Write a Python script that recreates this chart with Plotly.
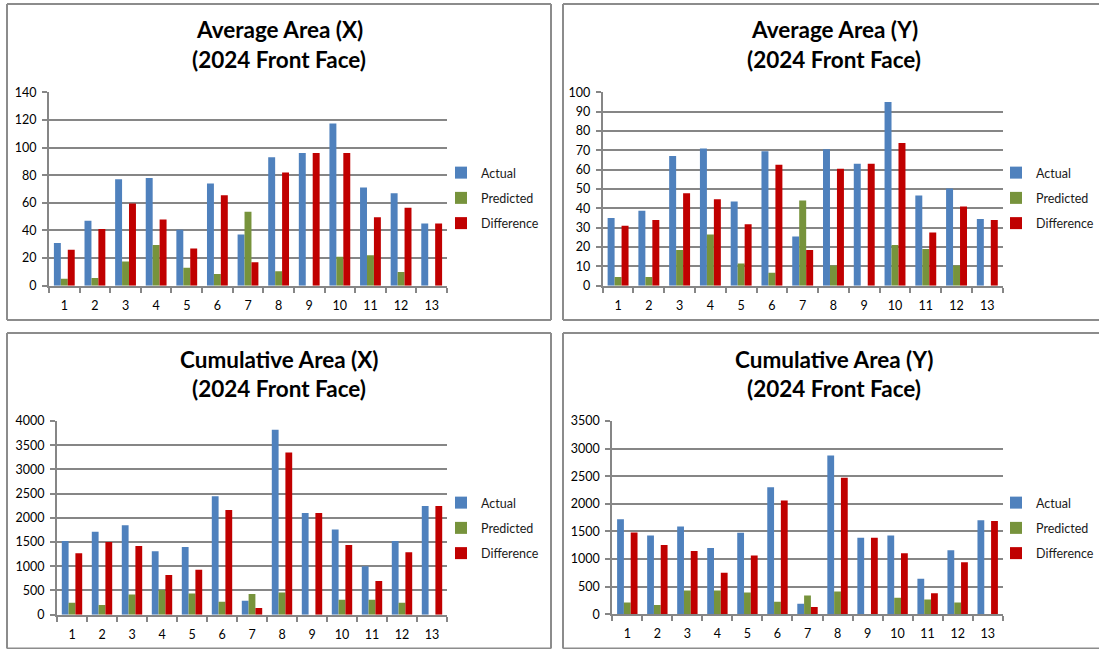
import plotly.graph_objects as go

W, H = 1099, 649

categories = [str(i) for i in range(1, 14)]
series_names = ["Actual", "Predicted", "Difference"]

avg_x_actual = [31, 47, 77, 78, 40.5, 74, 37, 93, 96, 117.5, 71, 67, 45]
avg_x_predicted = [5, 5.5, 17.5, 29.5, 13, 8.5, 53.5, 10.5, 0, 21, 22, 10, 0]
avg_x_difference = [26, 41, 59.5, 48, 27, 65.5, 17, 82, 96, 96, 49.5, 56.5, 45]

avg_y_actual = [35, 38.7, 67, 71, 43.5, 69.5, 25.5, 70.5, 63, 95, 46.7, 50.3, 34.5]
avg_y_predicted = [4.5, 4.5, 18.5, 26.5, 11.5, 6.7, 44, 10.5, 0, 21, 19, 10.5, 0]
avg_y_difference = [31, 34, 47.8, 44.7, 31.8, 62.5, 18.5, 60.5, 63, 73.8, 27.5, 41, 34]

cum_x_actual = [1520, 1715, 1845, 1310, 1400, 2445, 290, 3820, 2100, 1760, 1000, 1520, 2245]
cum_x_predicted = [245, 200, 415, 510, 440, 270, 425, 460, 0, 310, 310, 245, 0]
cum_x_difference = [1270, 1500, 1420, 820, 930, 2160, 140, 3350, 2100, 1440, 695, 1290, 2245]

cum_y_actual = [1720, 1425, 1590, 1200, 1475, 2300, 190, 2875, 1385, 1425, 640, 1160, 1700]
cum_y_predicted = [210, 165, 430, 430, 395, 225, 340, 410, 0, 300, 265, 210, 0]
cum_y_difference = [1480, 1255, 1145, 750, 1065, 2060, 130, 2470, 1385, 1105, 380, 940, 1690]

titles = [
    ("Average Area (X)", "(2024 Front Face)"),
    ("Average Area (Y)", "(2024 Front Face)"),
    ("Cumulative Area (X)", "(2024 Front Face)"),
    ("Cumulative Area (Y)", "(2024 Front Face)"),
]
y_ranges = [(0, 140, 20), (0, 100, 10), (0, 4000, 500), (0, 3500, 500)]
colors = ["#4F81BD", "#77933C", "#C00000"]

data_sets = [
    (avg_x_actual, avg_x_predicted, avg_x_difference),
    (avg_y_actual, avg_y_predicted, avg_y_difference),
    (cum_x_actual, cum_x_predicted, cum_x_difference),
    (cum_y_actual, cum_y_predicted, cum_y_difference),
]

# pixel layout (left, right, top, bottom) of plot areas
plot_px = [
    (49, 447, 92.3, 285.7),
    (602.7, 1002.7, 92.3, 285.7),
    (57, 447, 421, 614.7),
    (612.3, 1002.7, 421, 614.2),
]
# panel frames: (left, right, top, bottom, sides to draw)
panel_px = [
    (7, 551, 4, 320, "ltrb"),
    (563, 1099, 4, 320, "ltb"),
    (7, 551, 333, 648.5, "ltrb"),
    (563, 1099, 333, 648.5, "ltb"),
]
legend_px = [(441, 158), (996, 158), (441, 488), (996, 488)]


def fx(v):
    return v / W


def fy(v):
    return 1 - v / H


FONT = "Lato, 'Open Sans', sans-serif"
GRID = "#868686"
FRAME = "#8c8c8c"

fig = go.Figure()
layout = dict(
    autosize=True,
    margin=dict(l=0, r=0, t=0, b=0, autoexpand=False),
    paper_bgcolor="white", plot_bgcolor="white",
    barmode="group", bargap=0.32, bargroupgap=0,
    font=dict(family=FONT, size=12, color="#000000"),
    shapes=[], annotations=[],
)

for i, (vals, (l, r, t, b)) in enumerate(zip(data_sets, plot_px)):
    n = i + 1
    xa = "x" if n == 1 else f"x{n}"
    ya = "y" if n == 1 else f"y{n}"
    lg = "legend" if n == 1 else f"legend{n}"
    for j, name in enumerate(series_names):
        fig.add_trace(go.Bar(
            x=categories, y=vals[j], name=name,
            marker=dict(color=colors[j], line=dict(width=0)),
            xaxis=xa, yaxis=ya, legend=lg,
            legendgroup=f"{n}-{name}",
        ))
    y0, y1, dt = y_ranges[i]
    layout[f"xaxis{'' if n == 1 else n}"] = dict(
        domain=[fx(l), fx(r)], anchor=ya, type="category",
        range=[-0.5, 12.5], showline=True, linecolor=GRID, linewidth=2,
        ticks="outside", tickson="boundaries", ticklen=5, tickwidth=2,
        tickcolor=GRID, showgrid=False, zeroline=False,
        tickfont=dict(family=FONT, size=12.5, color="#000000"),
        ticklabelstandoff=7,
    )
    layout[f"yaxis{'' if n == 1 else n}"] = dict(
        domain=[fy(b), fy(t)], anchor=xa, range=[y0, y1], dtick=dt,
        showline=True, linecolor=GRID, linewidth=2,
        ticks="outside", ticklen=5, tickwidth=2, tickcolor=GRID,
        showgrid=True, gridcolor=GRID, gridwidth=2, zeroline=False,
        tickfont=dict(family=FONT, size=12.5, color="#000000"),
        ticklabelstandoff=3,
    )
    lx, ly = legend_px[i]
    layout[lg] = dict(
        x=fx(lx), y=fy(ly), xanchor="left", yanchor="top",
        bgcolor="rgba(0,0,0,0)", traceorder="grouped", tracegroupgap=6,
        font=dict(family=FONT, size=12.5, color="#1a1a1a"),
        itemclick=False, itemdoubleclick=False,
    )
    pl, pr, pt, pb, sides = panel_px[i]
    segs = {
        "l": (pl, pt, pl, pb),
        "t": (pl, pt, pr, pt),
        "r": (pr, pt, pr, pb),
        "b": (pl, pb, pr, pb),
    }
    for s in sides:
        x0, y0s, x1, y1s = segs[s]
        layout["shapes"].append(dict(
            type="line", xref="paper", yref="paper",
            x0=fx(x0), x1=fx(x1), y0=fy(y0s), y1=fy(y1s),
            line=dict(color=FRAME, width=2),
        ))
    cx = (pl + (pr if "r" in sides else 1105)) / 2
    for k, txt in enumerate(titles[i]):
        layout["annotations"].append(dict(
            text=f"<b>{txt}</b>", xref="paper", yref="paper",
            x=fx(cx), y=fy(pt + 26 + 29 * k), xanchor="center", yanchor="middle",
            showarrow=False, font=dict(family=FONT, size=22.5, color="#000000"),
        ))

fig.update_layout(**layout)
fig.write_html(
    "out.html",
    config={"displayModeBar": False, "responsive": True},
    default_width="100vw",
    default_height="100vh",
    post_script=(
        "document.documentElement.style.margin='0';"
        "document.documentElement.style.overflow='hidden';"
        "document.body.style.margin='0';document.body.style.padding='0';"
        "document.body.style.overflow='hidden';"
        "var gd=document.getElementById('{plot_id}');"
        "gd.style.position='fixed';gd.style.top='0px';gd.style.left='0px';"
        "gd.style.width='100vw';gd.style.height='100vh';"
        "Plotly.Plots.resize(gd);"
    ),
)
